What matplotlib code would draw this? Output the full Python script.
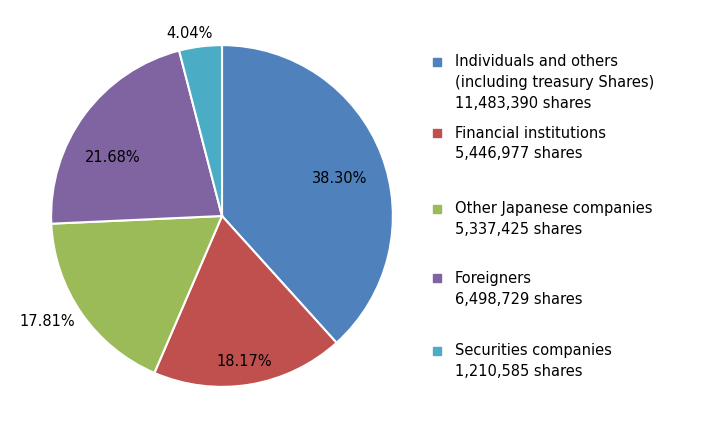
import matplotlib
matplotlib.use("Agg")
import matplotlib.pyplot as plt

categories = ["Individuals and others\n(including treasury Shares)", "Financial institutions",
              "Other Japanese companies", "Foreigners", "Securities companies"]
shares = [11483390, 5446977, 5337425, 6498729, 1210585]
pct_labels = ["38.30%", "18.17%", "17.81%", "21.68%", "4.04%"]
colors = ["#4F81BD", "#C0504D", "#9BBB59", "#8064A2", "#4BACC6"]

W, H = 720, 422
fig = plt.figure(figsize=(7.2, 4.22), dpi=100)
cx, cy, r = 222, 216, 171
ax = fig.add_axes([(cx - r - 5) / W, (H - cy - r - 5) / H, (2 * r + 10) / W, (2 * r + 10) / H])
ax.pie(shares, colors=colors, startangle=90, counterclock=False,
       wedgeprops=dict(edgecolor="white", linewidth=1.5))
ax.set_xlim(-1.03, 1.03); ax.set_ylim(-1.03, 1.03); ax.set_aspect("equal")

label_pos = [(0.69, 0.22), (0.13, -0.85), (-1.02, -0.62), (-0.64, 0.34), (-0.19, 1.07)]
for (x, y), t in zip(label_pos, pct_labels):
    ax.text(x, y, t, ha="center", va="center", fontsize=10.5, color="black", clip_on=False)

rows_y = [62, 133, 209, 278, 351]
for cat, sh, c, py in zip(categories, shares, colors, rows_y):
    fig.patches.append(plt.Rectangle(((433) / W, (H - py - 4) / H), 8 / W, 8 / H,
                                     transform=fig.transFigure, color=c, figure=fig))
    lines = cat.split("\n") + [f"{sh:,} shares"]
    for i, ln in enumerate(lines):
        fig.text(455 / W, (H - py - i * 21) / H, ln, ha="left", va="center", fontsize=10.5)

fig.savefig("out.png", dpi=100)
